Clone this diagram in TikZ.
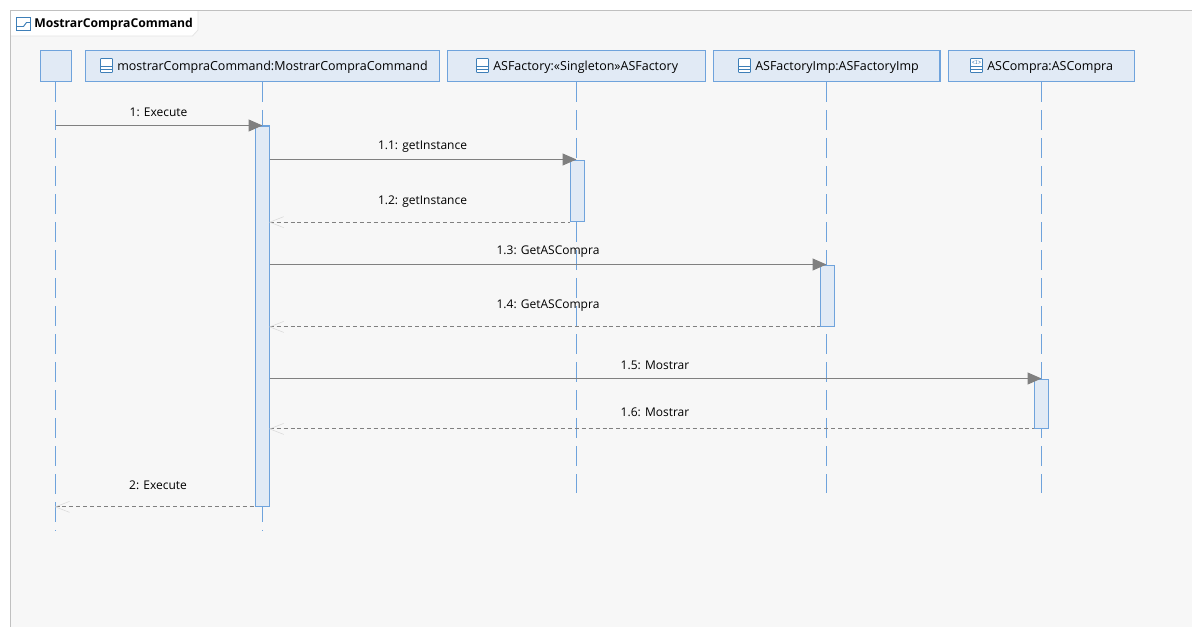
\documentclass[tikz,border=0pt]{standalone}
\usepackage{fontspec}
\setmainfont{Open Sans}
\usetikzlibrary{arrows.meta}
\definecolor{fillblue}{HTML}{E1EAF5}
\definecolor{lineblue}{HTML}{6FA3DC}
\definecolor{msggray}{HTML}{808080}
\definecolor{bggray}{HTML}{F7F7F7}
\definecolor{framegray}{HTML}{C0C0C0}
\definecolor{iconblue}{HTML}{3E7FB8}
\tikzset{
  x=0.75pt,y=-0.75pt,
  headbox/.style={draw=lineblue,fill=fillblue,line width=0.9pt,minimum height=23.2pt,inner sep=0pt,anchor=north west},
  actbox/.style={draw=lineblue,fill=fillblue,line width=0.9pt,inner sep=0pt,anchor=north west,minimum width=10.2pt},
  lifeline/.style={draw=lineblue,line width=0.8pt,dash pattern=on 15pt off 6pt},
  callmsg/.style={draw=msggray,line width=0.8pt,-{Triangle[length=10.5pt,width=9pt,fill=msggray,color=msggray]}},
  retmsg/.style={draw=msggray,line width=0.65pt,dash pattern=on 3pt off 2.2pt},
  barbline/.style={draw=black!15,line width=0.4pt},
  msglabel/.style={font=\fontsize{9}{11}\selectfont,text=black,inner sep=0pt},
  headlabel/.style={font=\fontsize{9.36}{12}\selectfont,text=black,inner sep=0pt,anchor=west},
  iconline/.style={draw=iconblue,line width=0.6pt},
  framebox/.style={draw=framegray,line width=0.8pt},
}
\newcommand{\objicon}[2]{%
  \draw[iconline,fill=white,rounded corners=0.5pt] (#1,#2) rectangle ++(12,14);
  \draw[iconline] (#1,#2+8) -- ++(12,0) (#1,#2+11) -- ++(12,0);
}
\newcommand{\retbarb}[1]{%
  \draw[barbline] ([shift={(14,-5.5)}]#1) -- (#1) -- ([shift={(14,5.5)}]#1);
}
\begin{document}
\begin{tikzpicture}
\useasboundingbox (0,0) rectangle (1192,627);
\fill[white] (0,0) rectangle (1192,627);
\fill[bggray] (10.5,10.5) rectangle (1192,627);
% tab
\draw[fill=white,draw=black!10,line width=0.6pt] (10.5,10.5) -- (198,10.5) -- (198,30) -- (192.5,36) -- (10.5,36) -- cycle;
\draw[framebox] (1192,10.5) -- (10.5,10.5) -- (10.5,627);
\draw[iconblue,line width=0.7pt,fill=white] (16.5,17.5) rectangle (30,30.5);
\draw[iconblue,line width=0.7pt] (16.5,26.5) -- (23.5,26.5) -- (26.5,22.5) -- (30,22.5);
\node[font=\fontsize{9.15}{12}\selectfont\bfseries,text=black,inner sep=0pt,anchor=west] (title) at (34,24.5) {MostrarCompraCommand};
% heads
\node[headbox,minimum width=23.2pt] (h0) at (39.9,49.9) {};
\node[headbox,minimum width=265.4pt] (h1) at (84.9,49.9) {};
\node[headbox,minimum width=193.5pt] (h2) at (446.9,49.9) {};
\node[headbox,minimum width=169.8pt] (h3) at (712.9,49.9) {};
\node[headbox,minimum width=139.5pt] (h4) at (947.9,49.9) {};
% lifeline ends
\coordinate (e0) at (55.5,531);
\coordinate (e1) at (262.5,531);
\coordinate (e2) at (576.5,493);
\coordinate (e3) at (826.5,493);
\coordinate (e4) at (1041.5,493);
\draw[lifeline] (h0.south -| e0) -- (e0);
\draw[lifeline] (h1.south -| e1) -- (e1);
\draw[lifeline] (h2.south -| e2) -- (e2);
\draw[lifeline] (h3.south -| e3) -- (e3);
\draw[lifeline] (h4.south -| e4) -- (e4);
% head text and icons
\objicon{100.5}{58.5}
\node[headlabel] (t1) at (117,67) {mostrarCompraCommand:MostrarCompraCommand};
\objicon{476.5}{58.5}
\node[headlabel] (t2) at (493,67) {ASFactory:«Singleton»ASFactory};
\objicon{738.5}{58.5}
\node[headlabel] (t3) at (755,67) {ASFactoryImp:ASFactoryImp};
\objicon{970.5}{58.5}
\node[font=\fontsize{4.5}{4.5}\selectfont\ttfamily\bfseries,text=iconblue,inner sep=0pt] (ic) at (976.5,62.5) {<I>};
\node[headlabel] (t4) at (987,67) {ASCompra:ASCompra};
% activations
\node[actbox,minimum height=285.2pt] (a1) at (254.9,125.4) {};
\node[actbox,minimum height=45.8pt] (a2) at (569.9,159.9) {};
\node[actbox,minimum height=45.6pt] (a3) at (819.9,264.9) {};
\node[actbox,minimum height=36.6pt] (a4) at (1033.9,378.9) {};
% messages
\coordinate (m1a) at (55.5,125.5);
\draw[callmsg] (m1a) -- (m1a -| e1);
\coordinate (m2a) at (269.5,159.5);
\draw[callmsg] (m2a) -- (m2a -| e2);
\coordinate (r2) at (a1.east |- a2.south);
\draw[retmsg] (r2) -- (a2.south west);
\retbarb{r2}
\coordinate (m4a) at (269.5,264.5);
\draw[callmsg] (m4a) -- (m4a -| e3);
\coordinate (r4) at (a1.east |- a3.south);
\draw[retmsg] (r4) -- (a3.south west);
\retbarb{r4}
\coordinate (m6a) at (269.5,378.5);
\draw[callmsg] (m6a) -- (m6a -| e4);
\coordinate (r6) at (a1.east |- a4.south);
\draw[retmsg] (r6) -- (a4.south west);
\retbarb{r6}
\coordinate (r8) at (e0 |- a1.south);
\draw[retmsg] (r8) -- (a1.south west);
\retbarb{r8}
% labels
\node[msglabel] (l1) at (158.5,112.5) {1: Execute};
\node[msglabel] (l2) at (422.5,146.5) {1.1: getInstance};
\node[msglabel] (l3) at (422.5,201.5) {1.2: getInstance};
\node[msglabel] (l4) at (548,251.5) {1.3: GetASCompra};
\node[msglabel] (l5) at (548,305.5) {1.4: GetASCompra};
\node[msglabel] (l6) at (655,365.5) {1.5: Mostrar};
\node[msglabel] (l7) at (655,412.5) {1.6: Mostrar};
\node[msglabel] (l8) at (158,485.5) {2: Execute};
\end{tikzpicture}
\end{document}
